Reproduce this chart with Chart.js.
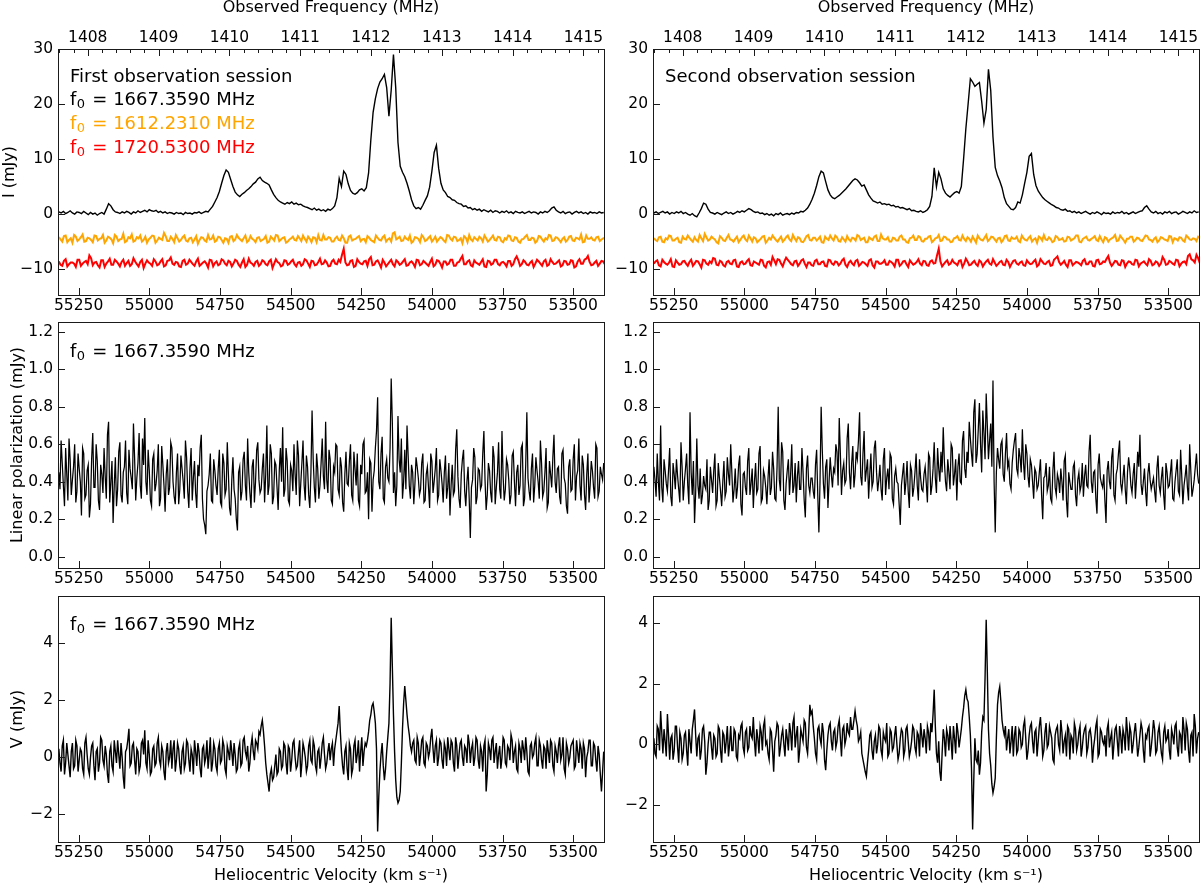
<!DOCTYPE html>
<html>
<head>
<meta charset="utf-8">
<title>Stokes spectra, two sessions</title>
<script src="https://cdn.jsdelivr.net/npm/chart.js@4.4.1/dist/chart.umd.min.js"></script>
<style>
  html, body { margin: 0; padding: 0; background: #fff; }
  #page { position: relative; width: 1200px; height: 885px; overflow: hidden; }
  #page canvas { position: absolute; }
</style>
</head>
<body>
<div id="page">
  <canvas id="c-i1"></canvas>
  <canvas id="c-i2"></canvas>
  <canvas id="c-p1"></canvas>
  <canvas id="c-p2"></canvas>
  <canvas id="c-v1"></canvas>
  <canvas id="c-v2"></canvas>
</div>
<script>
// ---- axes ----
const VEL_MIN = 53391;
const VEL_MAX = 55323;
const VEL_TICKS = [55250, 55000, 54750, 54500, 54250, 54000, 53750, 53500];
const FREQ_MIN = 1407.58;
const FREQ_MAX = 1415.29;
const FREQ_TICKS = [1408, 1409, 1410, 1411, 1412, 1413, 1414, 1415];
const I_TICKS = [-10, 0, 10, 20, 30];
const LP_TICKS = [0, 0.2, 0.4, 0.6, 0.8, 1.0, 1.2];
const V_TICKS = [-2, 0, 2, 4];

// channel grids: first velocity and spacing (km/s); *_ODD arrays hold the
// channels lying half a step after each main channel
const FINE_START = 55320, FINE_STEP = 8;
const COARSE_START = 55320, COARSE_STEP = 12;

// ---- Stokes I, 1667 MHz ----
const I_SESSION1 = [
  0.4, 0.2, 0.5, 0.1, 0.3, 0.6, 0.2, 0.0, 0.4, 0.3,
  0.1, 0.5, 0.2, -0.1, 0.3, 0.0, 0.2, -0.2, 0.1, 0.3,
  0.0, 0.9, 1.9, 1.5, 0.8, 0.4, 0.3, 0.1, 0.4, 0.2,
  0.5, 0.3, 0.0, 0.4, 0.2, 0.6, 0.3, 0.5, 0.7, 0.4,
  0.8, 0.6, 0.5, 0.7, 0.3, 0.5, 0.2, 0.4, 0.1, 0.3,
  0.2, 0.0, 0.3, 0.1, 0.2, -0.1, 0.3, 0.1, 0.2, 0.0,
  0.3, 0.2, 0.4, 0.1, 0.3, 0.5, 0.4, 0.9, 1.4, 2.2,
  3.0, 4.1, 5.6, 7.0, 8.0, 7.6, 6.3, 5.0, 4.0, 3.5,
  3.2, 3.6, 3.9, 4.3, 4.6, 5.0, 5.5, 5.8, 6.4, 6.7,
  6.1, 5.8, 5.6, 5.3, 4.4, 3.6, 3.0, 2.5, 2.2, 2.0,
  1.8, 2.1, 1.9, 2.2, 1.8, 2.0, 1.7, 1.8, 1.5, 1.3,
  1.2, 1.0, 0.8, 1.1, 0.7, 0.9, 0.6, 0.8, 0.5, 0.9,
  0.7, 1.0, 1.5, 3.0, 6.5, 5.0, 7.8, 7.2, 5.5, 4.3,
  3.8, 3.6, 3.9, 4.4, 4.6, 4.2, 4.8, 7.5, 13.5, 18.5,
  21.0, 22.8, 24.0, 24.6, 25.4, 23.0, 17.8, 22.5, 29.0, 23.0,
  13.0, 8.7, 7.6, 6.8, 5.6, 4.2, 2.6, 1.5, 1.0, 1.2,
  0.9, 1.6, 2.5, 3.3, 4.9, 7.8, 11.2, 12.5, 8.3, 5.6,
  4.4, 3.9, 3.2, 3.0, 2.6, 2.5, 2.1, 1.9, 1.8, 1.4,
  1.5, 1.1, 1.2, 0.8, 1.0, 0.7, 0.9, 0.5, 0.8, 0.6,
  0.4, 0.7, 0.3, 0.6, 0.5, 0.2, 0.5, 0.3, 0.6, 0.2,
  0.4, 0.1, 0.5, 0.3, 0.2, 0.4, 0.1, 0.3, 0.5, 0.2,
  0.4, 0.3, 0.0, 0.4, 0.2, 0.5, 0.3, 0.6, 1.1, 1.3,
  0.7, 0.4, 0.2, 0.5, 0.1, 0.3, 0.4, 0.0, 0.3, 0.5,
  0.2, 0.4, 0.1, 0.3, 0.0, 0.4, 0.2, 0.3, 0.1, 0.4,
  0.2, 0.3
];
const I_SESSION2 = [
  0.2, 0.4, 0.1, 0.3, 0.5, 0.2, 0.4, 0.0, 0.3, 0.1,
  0.4, 0.2, 0.5, 0.1, 0.3, 0.0, -0.2, 0.1, -0.3, -0.5,
  0.2, 1.0, 2.0, 1.8, 0.9, 0.3, 0.2, 0.0, 0.3, 0.1,
  -0.1, 0.2, 0.4, 0.1, 0.3, 0.0, 0.2, 0.5, 0.3, 0.6,
  0.4, 0.7, 1.0, 0.8, 0.5, 0.3, 0.4, 0.1, 0.2, -0.1,
  0.1, -0.2, 0.0, -0.3, 0.1, -0.1, 0.2, -0.2, 0.0, 0.1,
  -0.1, 0.2, 0.0, 0.3, 0.2, 0.5, 0.4, 0.7, 1.1, 1.8,
  2.7, 3.8, 5.2, 6.8, 7.8, 7.5, 5.9, 4.4, 3.5, 3.0,
  2.8, 3.1, 3.4, 3.8, 4.2, 4.6, 5.1, 5.6, 6.1, 6.4,
  6.2, 5.7, 5.1, 5.3, 4.4, 3.5, 2.9, 2.4, 2.2, 2.0,
  2.2, 1.8, 1.9, 1.7, 1.8, 1.5, 1.6, 1.3, 1.4, 1.1,
  1.2, 1.0, 0.8, 1.0, 0.6, 0.7, 0.5, 0.4, 0.6, 0.3,
  0.5, 0.8, 1.4, 3.2, 8.4, 5.0, 7.6, 6.4, 4.6, 3.8,
  3.4, 3.1, 3.5, 3.9, 4.1, 3.8, 5.0, 10.0, 15.5, 20.0,
  24.6, 24.0, 23.2, 23.6, 23.9, 20.5, 16.5, 19.0, 26.3, 22.5,
  14.0, 8.5, 7.0, 6.0, 4.8, 3.0, 1.9, 1.4, 0.9, 0.8,
  1.2, 2.2, 2.0, 3.5, 5.6, 7.6, 10.5, 11.0, 7.2, 5.2,
  4.2, 3.6, 3.0, 2.6, 2.3, 2.0, 1.7, 1.5, 1.2, 1.1,
  0.8, 0.7, 0.9, 0.5, 0.6, 0.3, 0.5, 0.2, 0.4, 0.1,
  0.3, 0.5, 0.2, 0.0, 0.3, 0.1, 0.4, 0.2, -0.1, 0.3,
  0.1, 0.2, 0.0, 0.4, 0.1, 0.3, 0.2, 0.5, 0.1, 0.3,
  0.0, 0.2, 0.4, 0.1, 0.3, 0.5, 0.6, 1.2, 1.5, 0.9,
  0.4, 0.2, 0.5, 0.1, 0.3, 0.0, 0.4, 0.2, 0.5, 0.1,
  0.3, 0.4, 0.0, 0.2, 0.5, 0.3, 0.1, 0.4, 0.2, 0.6,
  0.3, 0.4
];

// ---- Stokes I, 1612 MHz (offset -4.5) ----
const I1612_SESSION1 = [
  -4.2, -5.0, -3.9, -4.7, -5.2, -4.1, -4.6, -3.7, -4.9, -4.4,
  -5.1, -4.0, -4.5, -3.8, -4.8, -4.3, -5.3, -4.1, -4.6, -3.6,
  -4.9, -4.4, -5.0, -4.2, -3.9, -4.7, -5.2, -4.3, -4.0, -4.8,
  -4.5, -3.4, -4.9, -4.1, -5.1, -4.4, -4.7, -3.9, -5.0, -4.3,
  -4.6, -5.4, -4.2, -4.8, -3.8, -4.5, -5.0, -4.1, -4.7, -4.4,
  -5.2, -4.0, -4.6, -4.3, -4.9, -3.9, -4.8, -4.5, -5.1, -4.2,
  -4.7, -4.0, -5.0, -4.4, -3.8, -4.9, -4.3, -5.2, -4.6, -4.1,
  -4.8, -4.4, -3.9, -5.0, -4.5, -4.2, -5.1, -4.7, -3.8, -4.6,
  -4.3, -5.0, -4.1, -4.8, -4.4, -5.2, -3.9, -4.6, -4.2, -4.9,
  -4.5, -4.0, -4.7, -5.1, -4.3, -4.8, -3.9, -4.6, -5.0, -3.3,
  -4.4, -4.9, -4.1, -4.7, -5.2, -4.2, -4.5, -3.8, -4.9, -4.3,
  -5.0, -4.1, -4.6, -4.4, -5.1, -3.9, -4.8, -4.2, -4.7, -5.3,
  -4.3, -3.8, -4.9, -4.5, -4.1, -5.0, -4.4, -4.7, -3.9, -4.8,
  -4.2, -5.1, -4.6, -4.0, -4.9, -4.3, -5.2, -4.5, -3.8, -4.7,
  -4.4, -4.9, -4.1, -5.0, -4.6, -3.9, -4.8, -4.3, -5.1, -4.2,
  -4.7, -4.0, -4.9, -4.4, -3.7, -5.0, -4.5, -4.2, -4.8, -4.1,
  -4.6, -4.3
];
const I1612_SESSION1_ODD = [
  -4.6, -4.0, -5.1, -4.4, -3.8, -4.9, -4.2, -5.0, -4.3, -4.7,
  -3.9, -4.8, -4.4, -5.2, -4.1, -4.6, -3.8, -4.9, -4.5, -5.1,
  -4.2, -3.7, -4.8, -4.4, -5.0, -4.1, -4.6, -3.9, -5.2, -4.3,
  -4.7, -4.0, -4.9, -4.5, -3.8, -5.0, -4.2, -4.8, -4.4, -5.1,
  -4.0, -4.7, -4.3, -5.0, -4.6, -3.9, -4.8, -4.2, -5.2, -4.5,
  -4.1, -4.9, -3.8, -4.6, -4.4, -5.1, -4.0, -4.7, -4.3, -4.9,
  -4.5, -5.2, -4.1, -4.8, -3.9, -4.6, -4.2, -5.0, -4.4, -4.7,
  -4.0, -4.9, -4.5, -4.1, -5.1, -4.3, -3.8, -4.8, -4.6, -4.2,
  -5.0, -4.4, -4.7, -3.9, -5.2, -4.1, -4.8, -4.5, -4.0, -4.6,
  -5.1, -4.3, -4.9, -3.9, -4.7, -4.2, -5.0, -4.4, -3.5, -4.6,
  -4.1, -4.8, -4.5, -3.9, -4.9, -4.3, -5.1, -4.2, -4.7, -4.0,
  -4.6, -5.0, -4.2, -4.8, -3.8, -4.5, -4.1, -4.9, -4.4, -4.0,
  -5.1, -4.6, -4.2, -4.8, -4.4, -3.9, -5.0, -4.3, -4.7, -4.1,
  -4.9, -4.4, -3.9, -4.8, -4.2, -5.0, -4.6, -4.1, -4.7, -4.3,
  -5.2, -4.0, -4.6, -4.4, -3.8, -4.9, -4.2, -4.7, -4.5, -5.0,
  -4.1, -4.8, -4.3, -4.6, -5.1, -3.9, -4.5, -4.7, -4.2, -4.9,
  -4.4
];
const I1612_SESSION2 = [
  -4.4, -4.9, -4.1, -5.1, -4.6, -4.0, -4.8, -4.3, -5.2, -4.5,
  -3.9, -4.7, -4.2, -5.0, -4.4, -3.6, -4.8, -4.1, -4.6, -5.3,
  -4.3, -4.9, -3.8, -4.7, -4.5, -5.1, -4.2, -4.6, -3.9, -5.0,
  -4.4, -4.8, -4.1, -5.2, -4.3, -3.9, -4.7, -4.5, -5.0, -4.2,
  -4.6, -3.8, -4.9, -4.4, -5.1, -4.0, -4.7, -4.3, -4.8, -4.1,
  -5.2, -4.5, -3.9, -4.8, -4.2, -5.0, -4.6, -4.0, -4.9, -4.4,
  -3.8, -4.7, -4.3, -5.1, -4.5, -4.1, -4.9, -3.7, -4.6, -4.2,
  -5.0, -4.4, -4.8, -3.9, -4.6, -5.2, -4.3, -4.7, -4.0, -4.9,
  -4.5, -4.1, -5.1, -4.4, -3.8, -4.8, -4.2, -4.6, -5.0, -4.3,
  -4.7, -3.9, -4.9, -4.5, -4.1, -5.2, -4.4, -4.8, -3.8, -4.6,
  -4.2, -5.0, -4.3, -4.7, -3.9, -4.9, -4.5, -4.1, -5.1, -4.4,
  -4.8, -4.0, -4.6, -5.2, -4.3, -3.8, -4.7, -4.5, -4.9, -4.2,
  -4.6, -5.0, -4.1, -4.8, -4.4, -3.9, -5.1, -4.3, -4.7, -4.5,
  -4.0, -4.9, -4.6, -4.2, -5.0, -4.4, -3.8, -4.8, -4.3, -5.2,
  -4.5, -4.1, -4.7, -4.4, -4.9, -3.9, -4.6, -5.0, -4.2, -4.8,
  -4.3, -4.7, -4.0, -5.1, -4.5, -4.2, -4.8, -3.9, -4.6, -4.4,
  -4.9, -4.3
];
const I1612_SESSION2_ODD = [
  -4.7, -4.2, -5.0, -4.4, -3.9, -4.8, -4.5, -5.1, -4.1, -4.6,
  -4.3, -5.0, -4.7, -3.8, -4.9, -4.2, -4.6, -4.4, -5.1, -4.0,
  -4.8, -4.3, -4.6, -5.0, -4.1, -4.7, -3.9, -4.9, -4.4, -4.2,
  -5.1, -4.5, -4.0, -4.8, -4.6, -4.3, -5.0, -4.1, -4.7, -3.9,
  -4.9, -4.4, -4.2, -5.0, -4.6, -3.8, -4.8, -4.3, -4.5, -5.1,
  -4.1, -4.7, -4.4, -3.9, -4.9, -4.2, -5.0, -4.6, -4.3, -4.8,
  -4.0, -4.5, -5.1, -4.2, -4.7, -3.9, -4.9, -4.4, -4.6, -5.0,
  -4.3, -4.8, -4.1, -4.6, -5.1, -4.4, -3.9, -4.7, -4.2, -5.0,
  -4.5, -4.0, -4.8, -4.3, -4.9, -4.1, -4.6, -5.1, -4.4, -4.0,
  -4.8, -4.5, -4.2, -5.0, -4.6, -3.9, -4.7, -4.3, -4.9, -4.1,
  -4.6, -4.4, -5.1, -4.0, -4.8, -4.2, -4.5, -4.9, -3.9, -4.7,
  -4.3, -5.0, -4.4, -4.1, -4.8, -4.6, -4.2, -5.1, -4.0, -4.7,
  -4.4, -4.9, -4.2, -4.6, -3.9, -5.0, -4.5, -4.1, -4.8, -4.3,
  -4.7, -4.0, -5.1, -4.4, -4.6, -4.2, -4.9, -3.9, -4.7, -4.5,
  -4.1, -5.0, -4.3, -4.8, -4.4, -4.0, -4.7, -4.5, -5.1, -4.2,
  -4.6, -4.9, -4.1, -4.4, -4.8, -4.3, -5.0, -4.2, -4.7, -4.5,
  -4.1
];

// ---- Stokes I, 1720 MHz (offset -9) ----
const I1720_SESSION1 = [
  -8.6, -9.4, -8.2, -9.1, -8.8, -9.6, -8.3, -9.0, -8.5, -7.5,
  -9.3, -8.7, -9.7, -8.4, -9.0, -8.1, -9.2, -8.6, -9.5, -8.3,
  -8.9, -9.4, -8.0, -9.1, -8.7, -9.8, -8.4, -9.0, -8.2, -9.3,
  -8.6, -9.5, -8.5, -7.9, -9.2, -8.8, -9.6, -8.3, -9.0, -8.7,
  -9.4, -8.1, -9.1, -8.6, -9.7, -8.4, -8.9, -9.3, -8.2, -9.0,
  -8.5, -9.5, -8.3, -9.2, -8.8, -9.6, -8.1, -9.0, -8.7, -9.4,
  -8.4, -9.1, -8.6, -9.8, -8.2, -8.9, -9.3, -8.5, -9.0, -8.3,
  -9.5, -8.7, -9.1, -8.4, -9.6, -8.6, -9.2, -8.1, -9.0, -8.8,
  -9.4, -8.3, -9.1, -8.7, -6.3, -9.3, -8.5, -9.6, -8.2, -9.0,
  -8.6, -9.4, -7.8, -9.2, -8.4, -9.7, -8.8, -9.1, -8.3, -9.5,
  -8.7, -9.0, -8.2, -9.3, -8.6, -9.6, -8.4, -9.1, -8.8, -9.4,
  -8.1, -9.2, -8.5, -9.7, -8.6, -9.0, -8.3, -9.4, -8.7, -7.6,
  -9.1, -8.4, -9.5, -8.8, -9.2, -8.2, -9.6, -8.6, -9.0, -8.3,
  -9.3, -8.7, -9.5, -8.5, -9.1, -7.7, -9.4, -8.4, -9.2, -8.8,
  -9.6, -8.3, -9.0, -8.6, -9.4, -8.2, -9.1, -8.7, -9.5, -8.5,
  -9.2, -8.4, -9.7, -8.6, -9.0, -8.3, -7.6, -9.3, -8.8, -9.4,
  -8.5, -9.1
];
const I1720_SESSION1_ODD = [
  -9.2, -8.5, -9.5, -8.8, -9.0, -8.3, -9.4, -8.7, -9.1, -8.0,
  -8.8, -9.3, -8.4, -9.6, -8.6, -9.2, -8.3, -9.0, -8.7, -9.4,
  -8.5, -9.1, -8.6, -9.5, -8.3, -9.0, -8.8, -9.4, -8.6, -9.1,
  -8.2, -9.3, -8.4, -9.0, -8.7, -9.5, -8.5, -9.2, -8.3, -9.1,
  -8.6, -9.4, -8.8, -9.0, -8.3, -9.5, -8.6, -9.1, -8.4, -9.3,
  -8.7, -9.0, -8.5, -9.6, -8.2, -9.2, -8.8, -9.4, -8.5, -9.1,
  -8.6, -9.3, -8.3, -9.0, -8.7, -9.5, -8.4, -9.2, -8.6, -9.1,
  -8.8, -9.4, -8.2, -9.0, -8.5, -9.3, -8.7, -9.1, -8.4, -9.5,
  -8.6, -9.0, -8.3, -7.4, -8.8, -9.2, -8.4, -9.4, -8.7, -9.1,
  -8.5, -8.2, -9.3, -8.6, -9.0, -8.3, -9.5, -8.7, -9.1, -8.4,
  -9.2, -8.6, -9.4, -8.8, -9.0, -8.3, -9.3, -8.5, -9.1, -8.7,
  -9.5, -8.4, -9.0, -8.6, -9.2, -8.3, -9.4, -8.8, -8.1, -9.1,
  -8.6, -9.3, -8.4, -9.0, -8.7, -9.5, -8.5, -9.2, -8.3, -9.1,
  -8.8, -9.0, -8.5, -9.4, -8.2, -8.4, -9.1, -8.7, -9.3, -8.5,
  -9.0, -8.6, -9.4, -8.3, -9.2, -8.7, -9.0, -8.4, -9.3, -8.6,
  -9.1, -8.5, -9.5, -8.2, -9.0, -8.1, -8.7, -9.2, -8.5, -9.0,
  -8.6
];
const I1720_SESSION2 = [
  -9.0, -8.4, -9.5, -8.7, -9.2, -8.2, -9.6, -8.8, -9.1, -8.5,
  -9.4, -8.3, -9.0, -8.6, -9.7, -8.4, -9.2, -8.9, -8.1, -9.3,
  -8.7, -9.5, -8.5, -9.1, -8.3, -9.6, -8.6, -9.0, -8.2, -9.4,
  -8.8, -9.2, -8.4, -9.7, -8.6, -7.8, -9.1, -8.3, -9.5, -7.9,
  -8.7, -9.3, -8.5, -9.0, -8.2, -9.6, -8.8, -9.4, -8.3, -9.1,
  -8.6, -9.5, -8.4, -9.2, -8.7, -9.0, -8.1, -9.6, -8.5, -9.3,
  -8.3, -9.1, -8.8, -9.4, -8.2, -9.7, -8.6, -9.0, -8.4, -9.2,
  -8.7, -9.5, -8.3, -9.1, -8.5, -9.6, -8.8, -9.0, -8.2, -9.3,
  -8.6, -9.4, -8.4, -8.9, -6.3, -9.5, -8.7, -9.2, -8.3, -9.0,
  -8.5, -9.6, -8.1, -9.3, -8.8, -9.1, -8.4, -9.5, -8.6, -9.0,
  -8.2, -9.4, -8.7, -9.2, -8.3, -9.6, -8.5, -9.0, -8.8, -9.3,
  -8.4, -9.1, -8.6, -9.5, -8.2, -9.0, -8.7, -9.4, -8.3, -7.7,
  -9.2, -8.5, -9.6, -8.4, -9.0, -8.8, -9.3, -8.2, -9.1, -8.6,
  -9.5, -8.3, -9.0, -8.7, -7.6, -9.4, -8.5, -9.2, -8.4, -9.6,
  -8.6, -9.1, -8.3, -9.5, -8.8, -9.0, -8.2, -9.3, -8.6, -9.4,
  -7.8, -9.2, -8.5, -9.0, -8.3, -9.5, -8.7, -9.1, -7.3, -8.4,
  -7.4, -8.9
];
const I1720_SESSION2_ODD = [
  -8.6, -9.3, -8.3, -9.0, -8.8, -9.5, -8.4, -9.2, -8.6, -9.0,
  -8.7, -9.4, -8.5, -9.1, -8.3, -9.0, -8.6, -8.0, -9.2, -8.5,
  -9.3, -8.7, -9.0, -8.4, -9.5, -8.8, -9.1, -8.5, -9.3, -8.6,
  -9.0, -8.3, -9.4, -8.7, -9.2, -8.4, -8.2, -9.0, -8.6, -8.3,
  -9.1, -8.6, -9.4, -8.4, -9.0, -8.8, -9.3, -8.5, -9.1, -8.7,
  -9.4, -8.3, -9.0, -8.6, -9.3, -8.4, -9.2, -8.8, -9.0, -8.5,
  -9.4, -8.7, -9.1, -8.4, -9.3, -8.6, -9.0, -8.8, -9.2, -8.5,
  -9.0, -8.3, -9.4, -8.6, -9.1, -8.4, -9.2, -8.7, -9.0, -8.5,
  -9.3, -8.6, -9.0, -7.5, -8.6, -9.1, -8.4, -9.0, -8.8, -9.3,
  -8.4, -9.0, -8.6, -9.2, -8.5, -9.4, -8.7, -9.0, -8.3, -9.2,
  -8.8, -9.1, -8.5, -9.3, -8.7, -9.0, -8.4, -9.2, -8.6, -9.4,
  -8.8, -9.0, -8.3, -9.2, -8.6, -9.1, -8.5, -9.3, -8.0, -8.7,
  -8.9, -9.2, -8.4, -9.3, -8.7, -9.0, -8.5, -9.1, -8.6, -9.4,
  -8.4, -9.1, -8.6, -8.1, -8.8, -9.0, -8.6, -9.3, -8.5, -9.0,
  -8.7, -9.2, -8.4, -9.0, -8.6, -9.3, -8.5, -9.1, -8.8, -9.0,
  -8.3, -9.1, -8.7, -9.2, -8.4, -9.0, -8.6, -7.6, -8.2, -8.8,
  -8.0
];

// ---- linear polarization, 1667 MHz ----
const LP_SESSION1 = [
  0.45, 0.62, 0.38, 0.58, 0.30, 0.52, 0.41, 0.60, 0.35, 0.47,
  0.22, 0.55, 0.33, 0.49, 0.28, 0.66, 0.37, 0.51, 0.25, 0.44,
  0.58, 0.31, 0.72, 0.40, 0.18, 0.53, 0.36, 0.61, 0.29, 0.48,
  0.34, 0.57, 0.42, 0.71, 0.30, 0.50, 0.38, 0.63, 0.74, 0.33,
  0.46, 0.27, 0.55, 0.39, 0.60, 0.31, 0.49, 0.24, 0.52, 0.37,
  0.58, 0.32, 0.45, 0.28, 0.54, 0.40, 0.62, 0.35, 0.47, 0.30,
  0.51, 0.26, 0.43, 0.65, 0.20, 0.12, 0.38, 0.55, 0.29, 0.46,
  0.33, 0.57, 0.27, 0.50, 0.36, 0.44, 0.22, 0.53, 0.31, 0.14,
  0.48, 0.35, 0.56, 0.30, 0.45, 0.26, 0.52, 0.40, 0.61, 0.34,
  0.47, 0.29, 0.70, 0.38, 0.55, 0.32, 0.49, 0.25, 0.58, 0.69,
  0.36, 0.51, 0.28, 0.46, 0.60, 0.33, 0.54, 0.39, 0.62, 0.30,
  0.48, 0.26, 0.78, 0.37, 0.55, 0.31, 0.50, 0.43, 0.72, 0.34,
  0.52, 0.28, 0.45, 0.59, 0.33, 0.48, 0.24, 0.56, 0.38, 0.60,
  0.30, 0.47, 0.55, 0.27, 0.44, 0.62, 0.35, 0.20, 0.50, 0.41,
  0.58, 0.85, 0.36, 0.64, 0.29, 0.52, 0.40, 0.95, 0.34, 0.27,
  0.75, 0.45, 0.31, 0.57, 0.70, 0.38, 0.49, 0.28, 0.53, 0.42,
  0.36, 0.55, 0.30, 0.48, 0.26, 0.51, 0.40, 0.58, 0.33, 0.46,
  0.29, 0.54, 0.37, 0.22, 0.49, 0.35, 0.68, 0.31, 0.44, 0.57,
  0.27, 0.48, 0.10, 0.41, 0.53, 0.32, 0.46, 0.38, 0.67, 0.25,
  0.50, 0.34, 0.59, 0.28, 0.45, 0.36, 0.67, 0.30, 0.52, 0.41,
  0.33, 0.56, 0.27, 0.49, 0.38, 0.60, 0.31, 0.77, 0.35, 0.47,
  0.29, 0.53, 0.40, 0.62, 0.32, 0.45, 0.26, 0.51, 0.37, 0.65,
  0.34, 0.48, 0.28, 0.57, 0.39, 0.23, 0.52, 0.36, 0.60, 0.43,
  0.63, 0.30, 0.49, 0.25, 0.55, 0.38, 0.46, 0.31, 0.58, 0.35,
  0.44, 0.50
];
const LP_SESSION1_ODD = [
  0.36, 0.50, 0.27, 0.44, 0.63, 0.33, 0.48, 0.29, 0.55, 0.40,
  0.58, 0.31, 0.46, 0.21, 0.52, 0.37, 0.60, 0.30, 0.49, 0.34,
  0.43, 0.65, 0.29, 0.51, 0.38, 0.27, 0.56, 0.33, 0.45, 0.62,
  0.28, 0.47, 0.36, 0.53, 0.42, 0.66, 0.31, 0.49, 0.40, 0.57,
  0.30, 0.52, 0.35, 0.46, 0.27, 0.59, 0.38, 0.44, 0.33, 0.61,
  0.40, 0.28, 0.55, 0.36, 0.47, 0.31, 0.53, 0.26, 0.58, 0.42,
  0.34, 0.49, 0.58, 0.31, 0.17, 0.35, 0.44, 0.30, 0.52, 0.38,
  0.47, 0.29, 0.55, 0.33, 0.61, 0.26, 0.41, 0.36, 0.20, 0.45,
  0.30, 0.52, 0.38, 0.63, 0.34, 0.48, 0.29, 0.57, 0.41, 0.36,
  0.55, 0.44, 0.33, 0.60, 0.28, 0.51, 0.37, 0.46, 0.40, 0.32,
  0.58, 0.30, 0.49, 0.35, 0.44, 0.62, 0.27, 0.50, 0.38, 0.54,
  0.33, 0.45, 0.52, 0.29, 0.47, 0.38, 0.63, 0.36, 0.41, 0.57,
  0.30, 0.48, 0.60, 0.36, 0.53, 0.29, 0.44, 0.39, 0.51, 0.33,
  0.56, 0.38, 0.30, 0.49, 0.60, 0.34, 0.45, 0.52, 0.24, 0.46,
  0.67, 0.40, 0.55, 0.31, 0.48, 0.42, 0.58, 0.72, 0.45, 0.38,
  0.52, 0.63, 0.40, 0.36, 0.54, 0.31, 0.45, 0.39, 0.48, 0.33,
  0.50, 0.29, 0.44, 0.37, 0.55, 0.34, 0.47, 0.30, 0.52, 0.39,
  0.45, 0.31, 0.50, 0.38, 0.33, 0.57, 0.43, 0.26, 0.52, 0.35,
  0.40, 0.31, 0.37, 0.58, 0.28, 0.47, 0.36, 0.55, 0.41, 0.33,
  0.46, 0.29, 0.53, 0.37, 0.61, 0.31, 0.43, 0.36, 0.49, 0.28,
  0.54, 0.40, 0.45, 0.33, 0.58, 0.27, 0.49, 0.42, 0.30, 0.55,
  0.38, 0.46, 0.31, 0.50, 0.35, 0.58, 0.29, 0.44, 0.53, 0.40,
  0.47, 0.32, 0.55, 0.42, 0.27, 0.48, 0.35, 0.52, 0.30, 0.46,
  0.38, 0.54, 0.33, 0.44, 0.29, 0.51, 0.37, 0.60, 0.32, 0.48,
  0.41
];
const LP_SESSION2 = [
  0.48, 0.32, 0.40, 0.70, 0.29, 0.46, 0.35, 0.58, 0.27, 0.44,
  0.52, 0.36, 0.61, 0.30, 0.47, 0.38, 0.77, 0.33, 0.18, 0.63,
  0.31, 0.28, 0.43, 0.36, 0.25, 0.48, 0.34, 0.55, 0.30, 0.42,
  0.27, 0.51, 0.35, 0.44, 0.60, 0.29, 0.47, 0.37, 0.54, 0.22,
  0.45, 0.33, 0.58, 0.39, 0.26, 0.50, 0.36, 0.59, 0.31, 0.43,
  0.28, 0.52, 0.37, 0.47, 0.30, 0.80, 0.35, 0.56, 0.25, 0.46,
  0.33, 0.60, 0.38, 0.29, 0.51, 0.36, 0.45, 0.21, 0.54, 0.34,
  0.42, 0.31, 0.57, 0.13, 0.80, 0.39, 0.48, 0.26, 0.53, 0.37,
  0.45, 0.56, 0.74, 0.33, 0.50, 0.41, 0.71, 0.36, 0.59, 0.44,
  0.52, 0.77, 0.38, 0.67, 0.46, 0.31, 0.55, 0.40, 0.62, 0.35,
  0.49, 0.30, 0.58, 0.42, 0.36, 0.53, 0.28, 0.47, 0.39, 0.17,
  0.44, 0.33, 0.51, 0.26, 0.46, 0.37, 0.55, 0.30, 0.42, 0.35,
  0.48, 0.29, 0.53, 0.38, 0.61, 0.34, 0.47, 0.56, 0.69, 0.40,
  0.52, 0.36, 0.58, 0.44, 0.30, 0.55, 0.39, 0.67, 0.42, 0.50,
  0.63, 0.48, 0.84, 0.55, 0.82, 0.45, 0.66, 0.87, 0.52, 0.71,
  0.94, 0.13, 0.58, 0.47, 0.62, 0.40, 0.66, 0.51, 0.36, 0.57,
  0.66, 0.44, 0.53, 0.68, 0.41, 0.55, 0.37, 0.49, 0.31, 0.45,
  0.38, 0.52, 0.20, 0.43, 0.35, 0.48, 0.29, 0.56, 0.33, 0.41,
  0.47, 0.30, 0.54, 0.21, 0.40, 0.36, 0.50, 0.27, 0.45, 0.38,
  0.32, 0.49, 0.37, 0.65, 0.34, 0.46, 0.23, 0.55, 0.39, 0.44,
  0.18, 0.51, 0.36, 0.58, 0.30, 0.47, 0.62, 0.35, 0.49, 0.28,
  0.53, 0.38, 0.44, 0.31, 0.56, 0.65, 0.33, 0.47, 0.27, 0.50,
  0.36, 0.42, 0.29, 0.54, 0.34, 0.48, 0.25, 0.45, 0.38, 0.52,
  0.30, 0.46, 0.35, 0.57, 0.28, 0.43, 0.37, 0.60, 0.32, 0.41,
  0.55, 0.39
];
const LP_SESSION2_ODD = [
  0.41, 0.55, 0.30, 0.37, 0.52, 0.39, 0.46, 0.32, 0.50, 0.36,
  0.43, 0.29, 0.48, 0.40, 0.55, 0.28, 0.45, 0.51, 0.34, 0.38,
  0.47, 0.33, 0.38, 0.52, 0.30, 0.41, 0.46, 0.27, 0.50, 0.35,
  0.40, 0.32, 0.53, 0.38, 0.45, 0.36, 0.31, 0.49, 0.28, 0.44,
  0.37, 0.51, 0.33, 0.47, 0.40, 0.34, 0.55, 0.29, 0.46, 0.37,
  0.42, 0.33, 0.56, 0.31, 0.48, 0.41, 0.61, 0.30, 0.39, 0.52,
  0.44, 0.34, 0.50, 0.43, 0.36, 0.58, 0.30, 0.47, 0.38, 0.42,
  0.35, 0.49, 0.33, 0.40, 0.57, 0.31, 0.52, 0.40, 0.44, 0.47,
  0.60, 0.38, 0.55, 0.46, 0.39, 0.63, 0.45, 0.50, 0.37, 0.56,
  0.62, 0.43, 0.55, 0.40, 0.52, 0.44, 0.37, 0.58, 0.45, 0.41,
  0.36, 0.52, 0.33, 0.47, 0.55, 0.31, 0.43, 0.40, 0.28, 0.38,
  0.50, 0.40, 0.35, 0.49, 0.32, 0.45, 0.38, 0.52, 0.36, 0.44,
  0.39, 0.55, 0.33, 0.47, 0.42, 0.58, 0.40, 0.45, 0.51, 0.35,
  0.45, 0.60, 0.38, 0.52, 0.48, 0.40, 0.62, 0.47, 0.56, 0.72,
  0.55, 0.77, 0.50, 0.68, 0.60, 0.78, 0.52, 0.70, 0.62, 0.48,
  0.40, 0.45, 0.52, 0.60, 0.44, 0.55, 0.48, 0.39, 0.50, 0.62,
  0.47, 0.58, 0.45, 0.50, 0.60, 0.43, 0.52, 0.40, 0.47, 0.36,
  0.45, 0.33, 0.42, 0.50, 0.38, 0.31, 0.46, 0.37, 0.44, 0.34,
  0.40, 0.51, 0.30, 0.45, 0.36, 0.48, 0.33, 0.41, 0.35, 0.50,
  0.43, 0.38, 0.56, 0.40, 0.45, 0.31, 0.49, 0.42, 0.37, 0.30,
  0.46, 0.40, 0.53, 0.33, 0.44, 0.55, 0.39, 0.42, 0.36, 0.45,
  0.47, 0.34, 0.50, 0.42, 0.48, 0.39, 0.40, 0.35, 0.44, 0.41,
  0.39, 0.35, 0.47, 0.38, 0.42, 0.33, 0.50, 0.37, 0.45, 0.31,
  0.40, 0.52, 0.33, 0.43, 0.38, 0.49, 0.30, 0.46, 0.36, 0.48,
  0.44
];

// ---- Stokes V, 1667 MHz ----
const V_SESSION1 = [
  0.3, -0.5, 0.6, -0.2, 0.1, -0.7, 0.5, -0.3, 0.4, -0.1,
  0.2, -0.6, 0.7, -0.4, 0.0, 0.5, -0.8, 0.3, -0.2, 0.6,
  -0.3, 0.1, -0.9, 0.4, -0.5, 0.2, 0.6, -0.4, 0.0, -1.1,
  0.3, 1.0, -0.2, 0.5, -0.6, 0.2, -0.3, 0.6, 0.95, -0.4,
  0.1, -0.5, 0.4, -0.2, 0.7, -0.3, 0.2, -0.8, 0.5, 0.0,
  -0.4, 0.6, -0.1, 0.3, -0.6, 0.4, -0.2, 0.5, -0.5, 0.1,
  0.6, -0.3, 0.2, -0.7, 0.4, 0.0, -0.4, 0.7, -0.2, 0.3,
  -0.5, 0.5, -0.1, 0.4, -0.6, 0.2, 0.6, -0.3, 0.1, -0.4,
  0.5, -0.2, 0.7, 0.0, -0.5, 0.4, 0.2, 0.6, 0.3, 0.8,
  1.3, 0.4, -0.6, -1.2, -0.4, -0.7, 0.1, -0.5, 0.2, -0.3,
  0.4, -0.6, 0.3, -0.1, 0.6, -0.4, 0.2, -0.7, 0.5, 0.0,
  -0.3, 0.6, -0.2, 0.4, -0.5, 0.3, 0.0, 0.7, -0.4, 0.2,
  -0.1, 0.5, 0.3, 0.9, 1.8, 0.2, -0.6, 0.4, -0.8, 0.3,
  -0.4, 0.6, 0.1, -0.5, 0.7, 0.2, 0.4, 0.9, 1.5, 1.9,
  1.2, -2.6, -0.5, 0.5, -0.8, 0.2, 1.2, 4.9, 1.5, -0.8,
  -1.6, -1.2, 1.0, 2.5, 1.5, 0.8, 0.2, 0.6, -0.2, 0.5,
  0.1, 0.7, -0.3, 0.4, 0.2, 1.0, -0.2, 0.6, 0.0, 0.5,
  -0.4, 0.3, 0.7, -0.1, 0.5, -0.5, 0.4, 0.1, 0.6, -0.3,
  0.3, 0.8, -0.2, 0.5, 0.0, 0.6, -0.4, 0.2, 0.4, -1.2,
  0.5, -0.1, 0.7, 0.2, -0.4, 0.4, 0.0, 0.6, -0.3, 0.3,
  0.8, -0.2, 0.4, -0.5, 0.3, 0.6, -0.1, 0.2, -0.6, 0.5,
  0.1, 0.7, -0.3, 0.4, -0.4, 0.3, 0.6, -0.2, 0.5, -0.5,
  0.2, 0.4, -0.1, 0.7, -0.6, 0.3, 0.0, 0.5, -0.4, 0.6,
  -0.2, 0.3, 0.5, -0.7, 0.2, 0.6, -0.3, 0.4, -0.5, 0.1,
  -1.2, 0.2
];
const V_SESSION1_ODD = [
  -0.2, 0.4, -0.6, 0.5, -0.3, 0.2, -0.4, 0.6, -0.5, 0.3,
  -0.4, 0.5, 0.1, -0.6, 0.4, -0.3, 0.2, -0.5, 0.7, -0.1,
  0.4, -0.6, 0.2, -0.3, 0.6, -0.2, 0.1, 0.5, -0.7, 0.2,
  0.6, -0.3, 0.4, -0.1, 0.3, -0.5, 0.5, 0.1, -0.2, 0.6,
  -0.6, 0.3, -0.3, 0.5, -0.1, 0.4, -0.5, 0.2, -0.2, 0.6,
  0.3, -0.5, 0.5, -0.3, 0.2, -0.4, 0.6, -0.1, 0.3, -0.6,
  0.2, 0.5, -0.4, 0.3, -0.2, 0.6, 0.1, -0.5, 0.5, -0.3,
  0.3, -0.2, 0.6, -0.4, 0.4, -0.1, 0.2, 0.5, -0.5, 0.3,
  -0.3, 0.6, 0.2, 0.4, -0.2, 0.7, -0.1, 0.5, 0.9, 1.1,
  0.9, -0.2, -0.9, -0.6, -0.8, -0.3, -0.6, 0.3, -0.4, 0.5,
  -0.2, 0.4, -0.5, 0.5, 0.0, -0.3, 0.6, -0.2, 0.3, -0.5,
  0.4, -0.1, 0.6, -0.3, 0.2, -0.4, 0.5, 0.1, -0.2, 0.5,
  0.3, -0.3, 0.6, 1.2, 0.9, -0.3, 0.2, -0.4, 0.5, -0.6,
  0.4, -0.2, 0.6, 0.2, -0.3, 0.5, 0.6, 1.3, 1.8, 1.6,
  0.3, -1.4, 0.1, -0.3, -0.4, 0.7, 2.6, 3.2, 0.2, -1.4,
  -1.5, -0.2, 1.9, 2.0, 1.1, 0.4, 0.5, -0.1, 0.7, -0.3,
  0.6, -0.2, 0.5, 0.0, 0.7, 0.3, 0.4, -0.3, 0.6, -0.1,
  0.5, -0.3, 0.3, 0.6, -0.2, 0.7, -0.4, 0.5, 0.0, 0.4,
  -0.2, 0.5, 0.3, -0.3, 0.7, -0.1, 0.4, -0.5, 0.6, -0.6,
  0.3, 0.6, -0.2, 0.5, 0.1, -0.4, 0.7, -0.2, 0.4, -0.1,
  0.6, 0.2, -0.4, 0.5, -0.2, 0.3, 0.7, -0.5, 0.4, 0.0,
  0.5, -0.3, 0.6, -0.1, 0.4, -0.4, 0.2, 0.6, -0.3, 0.4,
  -0.2, 0.7, 0.1, -0.4, 0.5, -0.2, 0.4, 0.6, -0.3, 0.2,
  0.5, -0.4, 0.3, 0.0, 0.6, -0.3, 0.5, -0.1, 0.4, -0.6,
  -0.5
];
const V_SESSION2 = [
  0.2, -0.4, 0.5, 1.1, -0.3, 0.1, 1.0, -0.5, 0.3, -0.2,
  0.6, -0.6, 0.2, -0.3, 0.4, -0.7, 0.1, 0.5, 1.15, -0.4,
  0.3, -0.2, 0.6, -1.0, 0.0, 0.4, -0.5, 0.2, -0.3, 0.5,
  -0.6, 0.3, 0.1, -0.4, 0.6, -0.2, 0.4, -0.5, 0.2, 0.7,
  -0.3, 0.5, -0.1, 0.3, 0.9, -0.4, 0.2, 0.6, -0.2, 0.8,
  0.1, -0.5, 0.4, -0.9, 0.3, 0.6, -0.1, 0.5, -0.4, 0.2,
  0.7, -0.2, 0.9, 0.3, -0.6, 0.5, 0.1, 0.7, -0.3, 1.3,
  1.1, 0.2, -0.5, 0.6, 0.0, 0.4, -0.85, 0.3, 0.7, -0.2,
  0.5, 0.1, 0.8, -0.4, 0.6, 0.2, 0.4, 0.9, 0.5, 1.1,
  0.6, 0.2, -0.3, -0.7, -1.05, -0.2, 0.4, -0.5, 0.3, 0.0,
  0.5, -0.4, 0.2, 0.7, -0.3, 0.4, -0.1, 0.6, -0.5, 0.2,
  0.4, -0.2, 0.6, -0.4, 0.1, 0.5, -0.3, 0.3, 0.7, -0.1,
  0.2, 0.6, -0.2, 0.4, 1.8, -0.3, 0.1, -1.2, 0.5, -0.4,
  0.3, 0.6, -0.5, 0.2, 0.7, -0.1, 0.5, 1.2, 1.8, 1.4,
  0.3, -2.8, 0.2, -0.6, -1.0, 0.4, 0.8, 4.1, 0.5, -0.7,
  -1.6, -1.1, 1.3, 1.9, 0.8, 0.3, -0.2, 0.5, 0.1, -0.4,
  0.6, -0.2, 0.4, 0.0, 0.8, -0.5, 0.3, 0.7, -0.3, 0.5,
  0.1, 0.9, -0.4, 0.4, -0.1, 0.6, 0.2, -0.6, 0.5, 0.0,
  0.8, -0.3, 0.3, 0.6, -0.5, 0.2, 0.7, -0.2, 0.4, -0.4,
  0.3, 0.6, -0.1, 0.5, -0.6, 0.2, 0.8, -0.3, 0.4, 0.0,
  -0.4, 0.7, 0.2, -0.5, 0.5, 0.1, 0.6, -0.3, 0.3, 0.9,
  -0.2, 0.4, 0.0, 0.7, -0.4, 0.3, 0.5, -0.6, 0.2, 0.6,
  -0.1, 0.8, -0.3, 0.4, 0.1, -0.5, 0.6, 0.2, -0.2, 0.5,
  0.0, 0.7, -0.4, 0.3, 0.9, -0.2, 0.5, -0.6, 0.4, 1.0,
  -0.3, 0.4
];
const V_SESSION2_ODD = [
  -0.3, 0.6, -0.2, 0.4, 0.5, -0.4, 0.3, 0.2, -0.5, 0.6,
  -0.1, 0.4, -0.5, 0.3, -0.2, 0.5, -0.3, 0.8, 0.3, 0.2,
  -0.5, 0.5, 0.1, -0.6, 0.4, -0.1, 0.3, -0.4, 0.6, -0.2,
  0.4, -0.3, 0.6, 0.0, -0.2, 0.5, -0.4, 0.3, 0.6, -0.1,
  0.4, -0.2, 0.6, 0.2, 0.1, 0.5, -0.3, 0.4, 0.6, 0.0,
  -0.3, 0.5, -0.2, 0.1, 0.7, -0.4, 0.3, 0.0, 0.5, -0.2,
  0.4, 0.7, -0.1, 0.6, -0.2, 0.3, 0.8, -0.1, 0.4, 1.0,
  0.6, -0.3, 0.5, 0.2, 0.7, -0.5, -0.2, 0.6, 0.1, 0.4,
  -0.1, 0.6, 0.2, 0.5, 0.0, 0.7, 0.3, 0.5, 0.8, 0.8,
  0.1, 0.4, -0.5, -0.9, -0.6, 0.3, -0.2, 0.1, -0.3, 0.6,
  -0.2, 0.4, 0.1, -0.4, 0.5, -0.2, 0.3, 0.0, -0.3, 0.5,
  -0.4, 0.5, 0.1, -0.2, 0.6, -0.1, 0.4, -0.4, 0.3, 0.5,
  -0.3, 0.4, 0.7, 1.0, 0.6, -0.6, -0.9, -0.3, 0.2, 0.5,
  -0.2, 0.1, 0.6, -0.3, 0.4, 0.2, 0.9, 1.6, 1.5, 0.9,
  -0.8, -1.2, -0.5, -0.2, -0.6, 0.9, 2.2, 2.4, -0.3, -1.3,
  -1.4, 0.2, 1.7, 1.4, 0.5, 0.6, 0.2, -0.3, 0.6, 0.3,
  -0.3, 0.5, -0.1, 0.6, 0.2, -0.2, 0.6, 0.1, 0.4, -0.4,
  0.6, 0.3, -0.2, 0.7, 0.0, 0.4, -0.5, 0.3, 0.6, -0.2,
  0.4, 0.1, -0.4, 0.5, 0.3, -0.3, 0.5, 0.0, 0.6, -0.1,
  0.5, -0.3, 0.4, 0.2, -0.1, 0.6, -0.4, 0.5, 0.1, 0.3,
  0.5, -0.1, 0.4, 0.0, 0.6, -0.4, 0.3, 0.5, -0.2, 0.4,
  0.6, -0.3, 0.4, 0.2, -0.1, 0.7, -0.2, 0.3, 0.5, -0.4,
  0.3, 0.5, -0.2, 0.6, -0.3, 0.4, 0.1, 0.5, -0.5, 0.3,
  0.6, -0.1, 0.4, -0.3, 0.5, 0.7, -0.2, 0.3, -0.4, 0.6,
  0.2
];

// ---- labels ----
const SESSION_LABELS = ['First observation session', 'Second observation session'];
const LINE_LABELS = [' = 1667.3590 MHz', ' = 1612.2310 MHz', ' = 1720.5300 MHz'];
const COLOR_1667 = '#000000';
const COLOR_1612 = '#FFA500';
const COLOR_1720 = '#FF0000';
const VEL_TITLE = 'Heliocentric Velocity (km s\u207B\u00B9)';
const FREQ_TITLE = 'Observed Frequency (MHz)';

// ---- style ----
Chart.defaults.font.family = '"DejaVu Sans", sans-serif';
const TICK_FONT = { family: '"DejaVu Sans", sans-serif', size: 15.5 };
const TITLE_FONT = { family: '"DejaVu Sans", sans-serif', size: 16, lineHeight: 1 };
const NOTE_SIZE = 18;
const SPINE = '#1a1a1a';

// minor marks on the frequency axis every 0.2 MHz
const FREQ_MARKS = [];
for (let k = 0; k <= 38; k++) FREQ_MARKS.push(Math.round((1407.6 + 0.2 * k) * 10) / 10);

function minusFmt(v) {
  return v < 0 ? '\u2212' + Math.abs(v) : String(v);
}

/** Channel list {x: velocity, y}; optional in-between channels sit half a step later. */
function channels(values, start, step, between) {
  const out = [];
  values.forEach((y, i) => {
    out.push({ x: start - i * step, y });
    if (between && i < between.length) out.push({ x: start - i * step - step / 2, y: between[i] });
  });
  return out;
}

/** Frame round the plot area plus inward tick marks (matplotlib "direction in"). */
const framePlugin = {
  id: 'frame',
  afterDraw(chart) {
    const { ctx, chartArea: a } = chart;
    ctx.save();
    ctx.strokeStyle = SPINE;
    ctx.lineWidth = 1;
    for (const s of Object.values(chart.scales)) {
      for (const t of s.ticks) {
        const p = Math.round(s.getPixelForValue(t.value)) + 0.5;
        let len = 7;
        if (s.id === 'f' && !FREQ_TICKS.includes(t.value)) len = 4;
        ctx.beginPath();
        if (s.isHorizontal()) {
          if (s.position === 'top') { ctx.moveTo(p, a.top); ctx.lineTo(p, a.top + len); }
          else { ctx.moveTo(p, a.bottom); ctx.lineTo(p, a.bottom - len); }
        } else {
          ctx.moveTo(a.left, p); ctx.lineTo(a.left + len, p);
        }
        ctx.stroke();
      }
    }
    ctx.strokeRect(a.left + 0.5, a.top + 0.5, a.right - a.left, a.bottom - a.top);
    ctx.restore();
  }
};

/** In-panel text: session name and the f0 line labels with a subscript 0. */
const notesPlugin = {
  id: 'notes',
  afterDraw(chart, args, opts) {
    const lines = opts.lines || [];
    const { ctx, chartArea: a } = chart;
    ctx.save();
    ctx.textBaseline = 'alphabetic';
    ctx.textAlign = 'left';
    const big = NOTE_SIZE + 'px "DejaVu Sans"';
    const small = '13px "DejaVu Sans"';
    for (const ln of lines) {
      let x = a.left + 12;
      const y = a.top + ln.dy;
      ctx.fillStyle = ln.color;
      ctx.font = big;
      if (ln.f0) {
        ctx.fillText('f', x, y);
        x += ctx.measureText('f').width + 0.5;
        ctx.font = small;
        ctx.fillText('0', x, y + 3);
        x += ctx.measureText('0').width + 1.5;
        ctx.font = big;
      }
      ctx.fillText(ln.text, x, y);
    }
    ctx.restore();
  }
};

function makePanel(id, g, cfg) {
  const canvas = document.getElementById(id);
  canvas.width = g.w;
  canvas.height = g.h;
  Object.assign(canvas.style, { left: g.x + 'px', top: g.y + 'px', width: g.w + 'px', height: g.h + 'px' });

  const scales = {
    x: {
      type: 'linear', position: 'bottom', min: VEL_MIN, max: VEL_MAX, reverse: true,
      grid: { display: false, drawTicks: false }, border: { display: false },
      ticks: { font: TICK_FONT, color: '#000', padding: 1.5, autoSkip: false, maxRotation: 0, callback: v => String(v) },
      afterBuildTicks: s => { s.ticks = VEL_TICKS.map(v => ({ value: v })); },
      afterFit: s => { s.height = g.botH; s.paddingLeft = 0; s.paddingRight = 0; },
      title: { display: !!cfg.xTitle, text: VEL_TITLE, color: '#000', font: TITLE_FONT, padding: { top: 0, bottom: 1 } }
    },
    y: {
      type: 'linear', position: 'left', min: cfg.yMin, max: cfg.yMax,
      grid: { display: false, drawTicks: false }, border: { display: false },
      ticks: { font: TICK_FONT, color: '#000', padding: 5, autoSkip: false, callback: cfg.yFmt },
      afterBuildTicks: s => { s.ticks = cfg.yTicks.map(v => ({ value: v })); },
      afterFit: s => { s.width = g.yW; s.paddingTop = 0; s.paddingBottom = 0; },
      title: { display: !!cfg.yTitle, text: cfg.yTitle || '', color: '#000', font: TITLE_FONT, padding: { top: cfg.yTitlePad || 0, bottom: 0 } }
    }
  };
  if (cfg.freqAxis) {
    scales.f = {
      type: 'linear', position: 'top', min: FREQ_MIN, max: FREQ_MAX,
      grid: { display: false, drawTicks: false }, border: { display: false },
      ticks: { font: TICK_FONT, color: '#000', padding: 2.2, autoSkip: false, maxRotation: 0,
               callback: v => (FREQ_TICKS.includes(v) ? String(v) : '') },
      afterBuildTicks: s => { s.ticks = FREQ_MARKS.map(v => ({ value: v })); },
      afterFit: s => { s.height = g.topH; s.paddingLeft = 0; s.paddingRight = 0; },
      title: { display: true, text: FREQ_TITLE, color: '#000', font: TITLE_FONT, padding: { top: 0, bottom: 0 } }
    };
  }

  const datasets = cfg.series.map(s => ({
    data: channels(s.values, s.start, s.step, s.between),
    borderColor: s.color,
    borderWidth: s.width || 1.2,
    pointRadius: 0,
    tension: 0,
    fill: false,
    xAxisID: 'x',
    yAxisID: 'y'
  }));

  return new Chart(canvas, {
    type: 'line',
    data: { datasets },
    options: {
      responsive: false,
      animation: false,
      devicePixelRatio: 1,
      events: [],
      parsing: false,
      normalized: true,
      layout: { padding: { left: 0, right: g.padR, top: g.padT, bottom: 0 } },
      plugins: { legend: { display: false }, tooltip: { enabled: false }, notes: { lines: cfg.notes || [] } },
      scales
    },
    plugins: [framePlugin, notesPlugin]
  });
}

// panel placement on the page
const GEOM = {
  i1: { x: 0,   y: 0,   w: 607, h: 318, yW: 58, padR: 3, padT: 0, topH: 49, botH: 23 },
  i2: { x: 607, y: 0,   w: 593, h: 318, yW: 46, padR: 1, padT: 0, topH: 49, botH: 23 },
  p1: { x: 0,   y: 318, w: 607, h: 272, yW: 58, padR: 3, padT: 4, botH: 22 },
  p2: { x: 607, y: 318, w: 593, h: 272, yW: 46, padR: 1, padT: 4, botH: 22 },
  v1: { x: 0,   y: 590, w: 607, h: 295, yW: 58, padR: 3, padT: 6, botH: 43 },
  v2: { x: 607, y: 590, w: 593, h: 295, yW: 46, padR: 1, padT: 6, botH: 43 }
};

const W_I = 1.4, W_BAND = 2.0, W_LP = 1.25, W_V = 1.4;

function iSeries(main, oh1612, oh1612b, oh1720, oh1720b) {
  return [
    { values: oh1612, between: oh1612b, start: COARSE_START, step: COARSE_STEP, color: COLOR_1612, width: W_BAND },
    { values: oh1720, between: oh1720b, start: COARSE_START, step: COARSE_STEP, color: COLOR_1720, width: W_BAND },
    { values: main, start: FINE_START, step: FINE_STEP, color: COLOR_1667, width: W_I }
  ];
}

const iCommon = { yMin: -14.7, yMax: 30, yTicks: I_TICKS, yFmt: minusFmt, freqAxis: true };
makePanel('c-i1', GEOM.i1, Object.assign({}, iCommon, {
  yTitle: 'I (mJy)', yTitlePad: 1.5,
  series: iSeries(I_SESSION1, I1612_SESSION1, I1612_SESSION1_ODD, I1720_SESSION1, I1720_SESSION1_ODD),
  notes: [
    { text: SESSION_LABELS[0], color: COLOR_1667, dy: 32.5 },
    { text: LINE_LABELS[0], color: COLOR_1667, dy: 55.5, f0: true },
    { text: LINE_LABELS[1], color: COLOR_1612, dy: 79.5, f0: true },
    { text: LINE_LABELS[2], color: COLOR_1720, dy: 104, f0: true }
  ]
}));
makePanel('c-i2', GEOM.i2, Object.assign({}, iCommon, {
  series: iSeries(I_SESSION2, I1612_SESSION2, I1612_SESSION2_ODD, I1720_SESSION2, I1720_SESSION2_ODD),
  notes: [{ text: SESSION_LABELS[1], color: COLOR_1667, dy: 32.5 }]
}));

const lpCommon = { yMin: -0.06, yMax: 1.252, yTicks: LP_TICKS, yFmt: v => v.toFixed(1) };
makePanel('c-p1', GEOM.p1, Object.assign({}, lpCommon, {
  yTitle: 'Linear polarization (mJy)', yTitlePad: 9.5,
  series: [{ values: LP_SESSION1, between: LP_SESSION1_ODD, start: FINE_START, step: FINE_STEP, color: COLOR_1667, width: W_LP }],
  notes: [{ text: LINE_LABELS[0], color: COLOR_1667, dy: 34.5, f0: true }]
}));
makePanel('c-p2', GEOM.p2, Object.assign({}, lpCommon, {
  series: [{ values: LP_SESSION2, between: LP_SESSION2_ODD, start: FINE_START, step: FINE_STEP, color: COLOR_1667, width: W_LP }]
}));

makePanel('c-v1', GEOM.v1, {
  yMin: -2.97, yMax: 5.66, yTicks: V_TICKS, yFmt: minusFmt, xTitle: true,
  yTitle: 'V (mJy)', yTitlePad: 9.5,
  series: [{ values: V_SESSION1, between: V_SESSION1_ODD, start: FINE_START, step: FINE_STEP, color: COLOR_1667, width: W_V }],
  notes: [{ text: LINE_LABELS[0], color: COLOR_1667, dy: 33.5, f0: true }]
});
makePanel('c-v2', GEOM.v2, {
  yMin: -3.21, yMax: 4.88, yTicks: V_TICKS, yFmt: minusFmt, xTitle: true,
  series: [{ values: V_SESSION2, between: V_SESSION2_ODD, start: FINE_START, step: FINE_STEP, color: COLOR_1667, width: W_V }]
});
</script>
</body>
</html>
